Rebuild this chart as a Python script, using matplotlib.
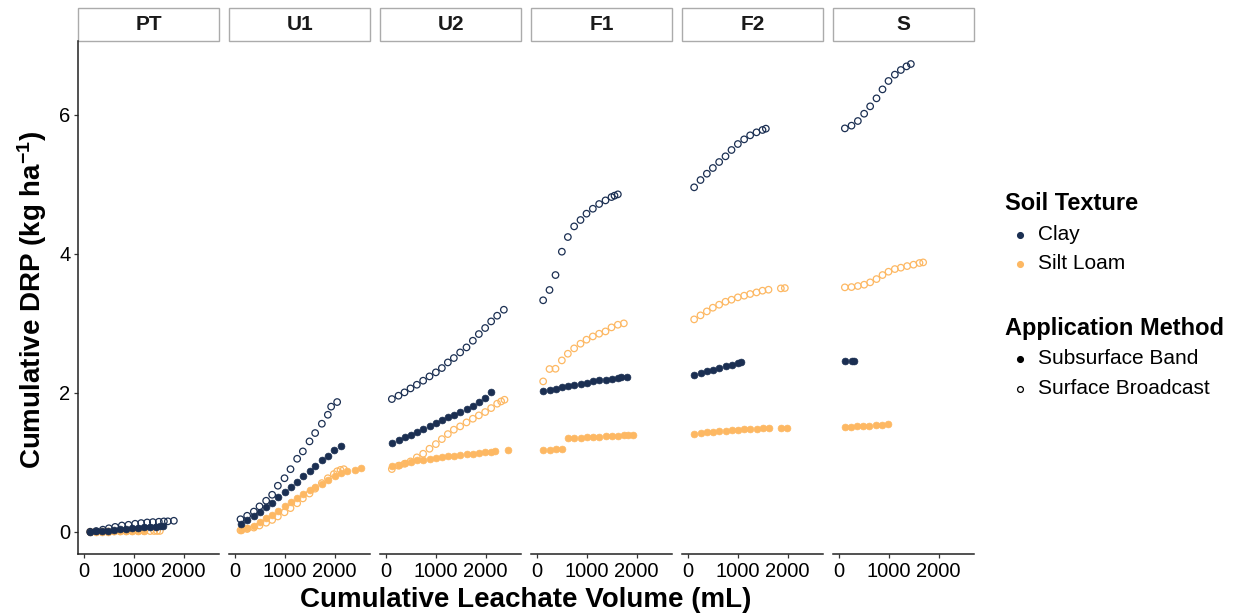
import matplotlib
matplotlib.use("Agg")
import matplotlib.pyplot as plt
from matplotlib.patches import Rectangle
from matplotlib.lines import Line2D

plt.rcParams['font.family'] = ['Liberation Sans', 'DejaVu Sans']
plt.rcParams['mathtext.fontset'] = 'custom'
plt.rcParams['mathtext.rm'] = 'Liberation Sans:bold'
plt.rcParams['mathtext.default'] = 'rm'

# ---- data: cumulative leachate volume (mL) vs cumulative DRP (kg/ha) ----
panels = ["PT", "U1", "U2", "F1", "F2", "S"]
textures = ["Clay", "Silt Loam"]
methods = ["Subsurface Band", "Surface Broadcast"]

# PT
pt_clay_band_x = [133, 253, 373, 493, 613, 733, 853, 973, 1093, 1213, 1333, 1453, 1530, 1587]
pt_clay_band_y = [0.0, 0.005, 0.01, 0.018, 0.025, 0.033, 0.04, 0.048, 0.055, 0.062, 0.068, 0.074, 0.078, 0.082]
pt_clay_broad_x = [133, 253, 387, 507, 633, 767, 900, 1033, 1153, 1273, 1387, 1507, 1607, 1687, 1807]
pt_clay_broad_y = [0.0, 0.01, 0.03, 0.05, 0.07, 0.09, 0.10, 0.115, 0.125, 0.134, 0.139, 0.144, 0.149, 0.150, 0.158]
pt_silt_band_x = [133, 253, 373, 493, 613, 733, 853, 973, 1093, 1213]
pt_silt_band_y = [0.0, 0.0, 0.002, 0.003, 0.004, 0.005, 0.006, 0.007, 0.008, 0.009]
pt_silt_broad_x = [133, 253, 373, 493, 613, 733, 853, 973, 1093, 1213, 1333, 1413, 1473, 1527]
pt_silt_broad_y = [0.0, 0.001, 0.002, 0.003, 0.004, 0.005, 0.006, 0.007, 0.008, 0.009, 0.010, 0.011, 0.011, 0.012]

# U1
u1_clay_band_x = [120, 253, 387, 500, 633, 753, 867, 1000, 1120, 1253, 1367, 1500, 1613, 1747, 1867, 1987, 2120]
u1_clay_band_y = [0.115, 0.163, 0.22, 0.278, 0.355, 0.412, 0.494, 0.566, 0.643, 0.71, 0.796, 0.868, 0.95, 1.026, 1.094, 1.17, 1.237]
u1_clay_broad_x = [120, 253, 387, 500, 633, 753, 867, 1000, 1120, 1253, 1367, 1500, 1613, 1747, 1867, 1933, 2053]
u1_clay_broad_y = [0.18, 0.23, 0.29, 0.365, 0.446, 0.532, 0.662, 0.77, 0.90, 1.05, 1.156, 1.30, 1.42, 1.554, 1.683, 1.80, 1.866]
u1_silt_band_x = [120, 253, 387, 500, 633, 753, 867, 1000, 1120, 1253, 1367, 1500, 1613, 1747, 1867, 2000, 2120, 2253, 2400, 2533]
u1_silt_band_y = [0.029, 0.053, 0.086, 0.134, 0.197, 0.245, 0.293, 0.365, 0.422, 0.484, 0.547, 0.604, 0.643, 0.69, 0.748, 0.806, 0.844, 0.868, 0.892, 0.916]
u1_silt_broad_x = [120, 253, 387, 500, 633, 753, 867, 1000, 1120, 1253, 1367, 1500, 1613, 1747, 1867, 1987, 2053, 2120, 2187]
u1_silt_broad_y = [0.02, 0.04, 0.06, 0.09, 0.13, 0.17, 0.22, 0.28, 0.34, 0.41, 0.48, 0.55, 0.62, 0.70, 0.77, 0.83, 0.87, 0.89, 0.90]

# U2
u2_clay_band_x = [127, 260, 380, 500, 627, 753, 880, 1007, 1127, 1247, 1367, 1493, 1620, 1747, 1867, 1993, 2113]
u2_clay_band_y = [1.276, 1.314, 1.357, 1.391, 1.434, 1.477, 1.516, 1.564, 1.602, 1.645, 1.683, 1.727, 1.765, 1.813, 1.861, 1.918, 2.005]
u2_clay_broad_x = [127, 260, 380, 500, 627, 753, 880, 1007, 1127, 1247, 1367, 1493, 1620, 1747, 1867, 1993, 2113, 2233, 2367]
u2_clay_broad_y = [1.909, 1.957, 2.005, 2.062, 2.115, 2.173, 2.235, 2.293, 2.355, 2.436, 2.499, 2.58, 2.652, 2.748, 2.844, 2.931, 3.026, 3.108, 3.194]
u2_silt_band_x = [127, 260, 380, 500, 627, 753, 880, 1007, 1127, 1247, 1367, 1493, 1620, 1747, 1867, 1993, 2113, 2193, 2447]
u2_silt_band_y = [0.94, 0.964, 0.988, 1.007, 1.026, 1.036, 1.05, 1.065, 1.074, 1.084, 1.094, 1.103, 1.113, 1.122, 1.132, 1.141, 1.151, 1.156, 1.17]
u2_silt_broad_x = [127, 260, 380, 500, 627, 753, 880, 1007, 1127, 1247, 1367, 1493, 1620, 1747, 1867, 1993, 2113, 2233, 2313, 2380]
u2_silt_broad_y = [0.902, 0.95, 0.978, 1.012, 1.07, 1.122, 1.194, 1.261, 1.333, 1.405, 1.468, 1.516, 1.573, 1.626, 1.674, 1.722, 1.779, 1.842, 1.875, 1.899]

# F1
f1_clay_band_x = [133, 260, 380, 507, 627, 753, 880, 1000, 1127, 1253, 1380, 1500, 1627, 1693, 1807]
f1_clay_band_y = [2.024, 2.038, 2.058, 2.082, 2.101, 2.115, 2.129, 2.144, 2.163, 2.177, 2.187, 2.197, 2.211, 2.221, 2.225]
f1_clay_broad_x = [133, 260, 380, 507, 627, 753, 880, 1000, 1127, 1253, 1380, 1500, 1560, 1627]
f1_clay_broad_y = [3.33, 3.478, 3.693, 4.029, 4.24, 4.393, 4.485, 4.576, 4.647, 4.715, 4.767, 4.815, 4.835, 4.854]
f1_silt_band_x = [133, 260, 380, 507, 627, 753, 880, 1000, 1127, 1253, 1380, 1500, 1627, 1747, 1827, 1933]
f1_silt_band_y = [1.18, 1.18, 1.185, 1.19, 1.343, 1.347, 1.352, 1.357, 1.362, 1.367, 1.372, 1.376, 1.381, 1.386, 1.388, 1.391]
f1_silt_broad_x = [133, 260, 380, 507, 627, 753, 880, 1000, 1127, 1253, 1380, 1500, 1627, 1747]
f1_silt_broad_y = [2.163, 2.341, 2.345, 2.465, 2.561, 2.638, 2.705, 2.763, 2.81, 2.849, 2.882, 2.94, 2.978, 2.998]

# F2
f2_clay_band_x = [133, 260, 387, 507, 633, 760, 880, 1007, 1067]
f2_clay_band_y = [2.254, 2.283, 2.307, 2.331, 2.35, 2.388, 2.403, 2.427, 2.441]
f2_clay_broad_x = [133, 260, 387, 507, 633, 760, 880, 1007, 1133, 1253, 1380, 1500, 1567]
f2_clay_broad_y = [4.955, 5.06, 5.151, 5.233, 5.319, 5.401, 5.492, 5.578, 5.645, 5.703, 5.746, 5.78, 5.799]
f2_silt_band_x = [133, 260, 387, 507, 633, 760, 880, 1007, 1133, 1253, 1380, 1500, 1620, 1867, 1987]
f2_silt_band_y = [1.405, 1.42, 1.429, 1.439, 1.448, 1.453, 1.463, 1.468, 1.472, 1.477, 1.482, 1.487, 1.492, 1.496, 1.496]
f2_silt_broad_x = [133, 260, 387, 507, 633, 760, 880, 1007, 1133, 1253, 1380, 1500, 1620, 1867, 1947]
f2_silt_broad_y = [3.055, 3.113, 3.17, 3.223, 3.266, 3.309, 3.338, 3.372, 3.396, 3.42, 3.443, 3.468, 3.482, 3.501, 3.506]

# S
s_clay_band_x = [127, 260, 313]
s_clay_band_y = [2.451, 2.451, 2.46]
s_clay_broad_x = [127, 260, 387, 513, 633, 760, 880, 1000, 1127, 1247, 1360, 1447]
s_clay_broad_y = [5.803, 5.842, 5.909, 6.014, 6.12, 6.235, 6.364, 6.485, 6.576, 6.643, 6.695, 6.729]
s_silt_band_x = [127, 247, 367, 493, 613, 740, 860, 993]
s_silt_band_y = [1.506, 1.51, 1.515, 1.52, 1.525, 1.53, 1.54, 1.545]
s_silt_broad_x = [127, 260, 387, 513, 633, 760, 880, 1000, 1127, 1247, 1373, 1500, 1620, 1693]
s_silt_broad_y = [3.516, 3.52, 3.535, 3.554, 3.588, 3.635, 3.693, 3.741, 3.779, 3.799, 3.822, 3.842, 3.866, 3.875]

x_ticks = [0, 1000, 2000]
y_ticks = [0, 2, 4, 6]

# panel -> list of (texture, method, x, y)
series = {
    "PT": [("Silt Loam", "Subsurface Band", pt_silt_band_x, pt_silt_band_y),
           ("Silt Loam", "Surface Broadcast", pt_silt_broad_x, pt_silt_broad_y),
           ("Clay", "Subsurface Band", pt_clay_band_x, pt_clay_band_y),
           ("Clay", "Surface Broadcast", pt_clay_broad_x, pt_clay_broad_y)],
    "U1": [("Silt Loam", "Subsurface Band", u1_silt_band_x, u1_silt_band_y),
           ("Silt Loam", "Surface Broadcast", u1_silt_broad_x, u1_silt_broad_y),
           ("Clay", "Subsurface Band", u1_clay_band_x, u1_clay_band_y),
           ("Clay", "Surface Broadcast", u1_clay_broad_x, u1_clay_broad_y)],
    "U2": [("Silt Loam", "Subsurface Band", u2_silt_band_x, u2_silt_band_y),
           ("Silt Loam", "Surface Broadcast", u2_silt_broad_x, u2_silt_broad_y),
           ("Clay", "Subsurface Band", u2_clay_band_x, u2_clay_band_y),
           ("Clay", "Surface Broadcast", u2_clay_broad_x, u2_clay_broad_y)],
    "F1": [("Silt Loam", "Subsurface Band", f1_silt_band_x, f1_silt_band_y),
           ("Silt Loam", "Surface Broadcast", f1_silt_broad_x, f1_silt_broad_y),
           ("Clay", "Subsurface Band", f1_clay_band_x, f1_clay_band_y),
           ("Clay", "Surface Broadcast", f1_clay_broad_x, f1_clay_broad_y)],
    "F2": [("Silt Loam", "Subsurface Band", f2_silt_band_x, f2_silt_band_y),
           ("Silt Loam", "Surface Broadcast", f2_silt_broad_x, f2_silt_broad_y),
           ("Clay", "Subsurface Band", f2_clay_band_x, f2_clay_band_y),
           ("Clay", "Surface Broadcast", f2_clay_broad_x, f2_clay_broad_y)],
    "S": [("Silt Loam", "Subsurface Band", s_silt_band_x, s_silt_band_y),
          ("Silt Loam", "Surface Broadcast", s_silt_broad_x, s_silt_broad_y),
          ("Clay", "Subsurface Band", s_clay_band_x, s_clay_band_y),
          ("Clay", "Surface Broadcast", s_clay_broad_x, s_clay_broad_y)],
}

colors = {"Clay": "#1b2f52", "Silt Loam": "#fdb863"}

W, H = 1239, 615
fig = plt.figure(figsize=(W / 100, H / 100), dpi=100)
fig.patch.set_facecolor("white")

panel_left0, panel_step, panel_w = 78, 151, 141.3
panel_top, panel_bottom = 41, 554
strip_h = 33
ph = panel_bottom - panel_top

for i, name in enumerate(panels):
    left = panel_left0 + i * panel_step
    ax = fig.add_axes([left / W, 1 - panel_bottom / H, panel_w / W, ph / H])
    for tex, meth, xs, ys in series[name]:
        c = colors[tex]
        if meth == "Subsurface Band":
            ax.scatter(xs, ys, s=24, color=c, edgecolors=c, linewidths=0.5, zorder=3)
        else:
            ax.scatter(xs, ys, s=22, facecolors="none", edgecolors=c, linewidths=0.9, zorder=3)
    ax.set_xlim(-110, 2716)
    ax.set_ylim(-0.32, 7.06)
    ax.set_xticks(x_ticks)
    ax.set_xticklabels([str(t) for t in x_ticks])
    ax.set_yticks(y_ticks)
    ax.set_yticklabels([str(t) for t in y_ticks])
    for sp in ("top", "right"):
        ax.spines[sp].set_visible(False)
    ax.spines["bottom"].set_linewidth(1.1)
    ax.spines["bottom"].set_color("#222222")
    ax.tick_params(axis="both", length=3, width=0.9, color="#333333",
                   labelsize=14.5, labelcolor="black", pad=2.5)
    if i == 0:
        ax.spines["left"].set_linewidth(1.1)
        ax.spines["left"].set_color("#222222")
    else:
        ax.spines["left"].set_visible(False)
        ax.tick_params(axis="y", left=False, labelleft=False)
    # facet strip
    ax.add_patch(Rectangle((0, 1), 1, strip_h / ph, transform=ax.transAxes,
                           clip_on=False, facecolor="white", edgecolor="#ababab", lw=1.0))
    ax.text(0.5, 1 + (strip_h / 2) / ph, name, transform=ax.transAxes,
            ha="center", va="center", fontsize=15, fontweight="bold", color="#1a1a1a")

# axis titles
fig.text(526 / W, 1 - 600 / H, "Cumulative Leachate Volume (mL)", ha="center", va="center",
         fontsize=20, fontweight="bold")
fig.text(32 / W, 1 - 300 / H, r"Cumulative DRP (kg ha$^{-1}$)", ha="center", va="center",
         rotation=90, fontsize=20, fontweight="bold")

# legends
def legend_text(y, s, bold=False):
    fig.text((1005 if bold else 1038) / W, 1 - y / H, s, ha="left", va="center",
             fontsize=17 if bold else 15, fontweight="bold" if bold else "normal")

def legend_marker(y, color, filled=True):
    fig.add_artist(Line2D([1020 / W], [1 - y / H], transform=fig.transFigure, marker="o",
                          linestyle="none", markersize=4.2,
                          markerfacecolor=color if filled else "none",
                          markeredgecolor=color, markeredgewidth=0.9))

legend_text(203, "Soil Texture", bold=True)
legend_marker(235, colors["Clay"])
legend_text(235, textures[0])
legend_marker(264, colors["Silt Loam"])
legend_text(264, textures[1])
legend_text(328, "Application Method", bold=True)
legend_marker(359, "black")
legend_text(359, methods[0])
legend_marker(389, "black", filled=False)
legend_text(389, methods[1])

fig.savefig("out.png", dpi=100, facecolor="white")
